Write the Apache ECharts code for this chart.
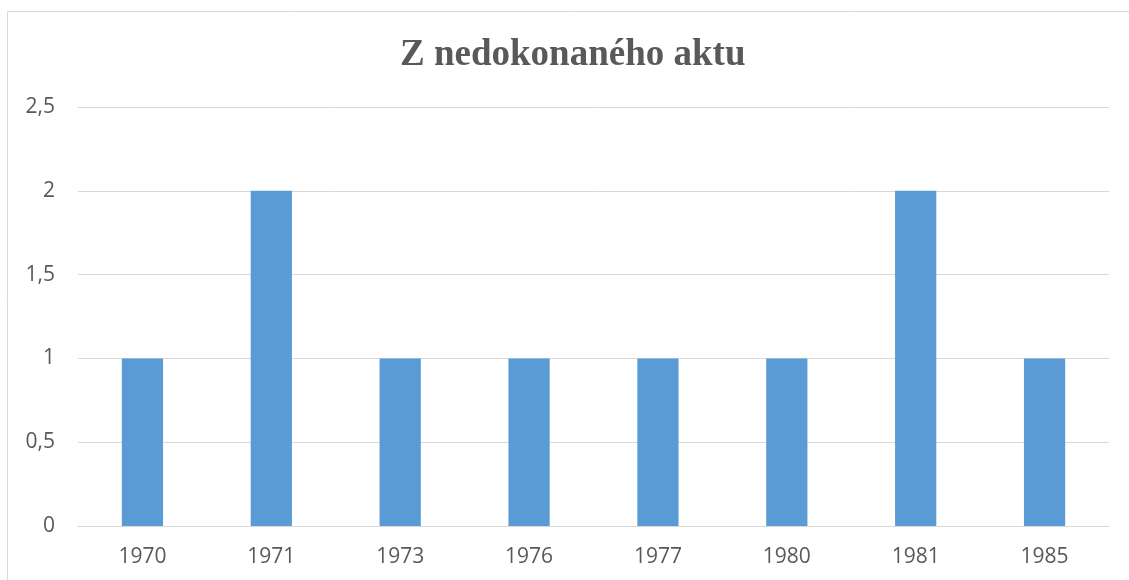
<!DOCTYPE html>
<html>
<head>
<meta charset="utf-8">
<script src="https://cdn.jsdelivr.net/npm/echarts@6/dist/echarts.min.js"></script>
<style>
  html, body { margin: 0; padding: 0; background: #fff; }
  #chart { width: 1129px; height: 580px; }
</style>
</head>
<body>
<div id="chart"></div>
<script>
const years = ['1970', '1971', '1973', '1976', '1977', '1980', '1981', '1985']
const counts = [1, 2, 1, 1, 1, 1, 2, 1]

const BAR = '#5b9bd5'
const GRID = '#d9d9d9'
const TEXT = '#595959'

const chart = echarts.init(document.getElementById('chart'))

chart.setOption({
  animation: false,
  backgroundColor: '#ffffff',
  graphic: [{
    type: 'rect',
    shape: { x: 7.5, y: 11.5, width: 1300, height: 800 },
    style: { fill: 'none', stroke: GRID, lineWidth: 1 },
    silent: true
  }],
  title: {
    text: 'Z nedokonaného aktu',
    left: 395,
    top: 32,
    textStyle: {
      fontFamily: '"Liberation Serif", serif',
      fontWeight: 'bold',
      fontSize: 37,
      color: TEXT
    }
  },
  grid: { left: 78, right: 20, top: 107, bottom: 54 },
  xAxis: {
    type: 'category',
    data: years,
    axisLine: { lineStyle: { color: GRID, width: 1 } },
    axisTick: { show: false },
    axisLabel: {
      color: TEXT,
      fontFamily: '"Open Sans", sans-serif',
      fontSize: 21,
      margin: 21
    }
  },
  yAxis: {
    type: 'value',
    min: 0,
    max: 2.5,
    interval: 0.5,
    axisLine: { show: false },
    axisTick: { show: false },
    splitLine: { lineStyle: { color: GRID, width: 1 } },
    axisLabel: {
      color: TEXT,
      fontFamily: '"Open Sans", sans-serif',
      fontSize: 21,
      margin: 23,
      formatter: v => String(v).replace('.', ',')
    }
  },
  series: [{
    type: 'bar',
    data: counts,
    barWidth: '32%',
    itemStyle: { color: BAR }
  }]
})
</script>
</body>
</html>
